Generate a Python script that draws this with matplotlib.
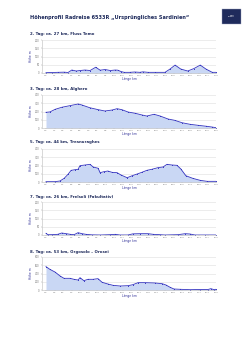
import matplotlib
matplotlib.use("Agg")
import matplotlib.pyplot as plt
import numpy as np
from matplotlib.patches import Rectangle

title = "Höhenprofil Radreise 6533R „Ursprüngliches Sardinien\u201c"

titles = [
    "2. Tag: ca. 27 km, Fluss Temo",
    "3. Tag: ca. 28 km, Alghero",
    "5. Tag: ca. 44 km, Tresnuraghes",
    "7. Tag: ca. 26 km, Frelsoli (Fakultativ)",
    "8. Tag: ca. 53 km, Orgosolo \u2013 Orosei",
]

km1 = [0, 0.95, 1.9, 2.9, 3.5, 4.1, 4.8, 5.4, 6.2, 7.0, 7.9, 8.6, 9.4, 10.2, 11.0, 11.4, 11.9,
       12.4, 13.3, 14.1, 14.9, 15.4, 16.2, 17.3, 18.9, 19.7, 20.5, 21.4, 22.5, 23.5, 24.5, 25.4, 26.4, 27]
hm1 = [2, 3, 4, 5, 3, 18, 12, 15, 18, 15, 35, 17, 21, 15, 18, 17, 9,
       4, 4, 6, 4, 7, 4, 4, 4, 24, 48, 24, 12, 27, 48, 24, 4, 4]

km2 = [0, 0.66, 1.5, 2.6, 3.95, 5.3, 5.9, 7.2, 8.6, 9.7, 10.9, 11.7, 12.5, 13.5, 14.7, 15.8,
       16.6, 17.8, 18.8, 20.1, 21.2, 22.4, 23.7, 25.0, 26.4, 27.3, 28]
hm2 = [190, 195, 226, 251, 271, 291, 279, 246, 222, 206, 218, 234, 222, 194, 178, 158,
       145, 166, 145, 109, 93, 64, 45, 33, 21, 12, 4]

km3 = [0, 2.3, 3.6, 4.7, 5.7, 6.5, 7.5, 8.3, 8.8, 10.1, 11.4, 12.2, 13.5, 14.0, 15.0, 16.0, 17.1,
       18.4, 19.4, 21.0, 22.3, 23.6, 24.8, 26.1, 27.4, 29.0, 30.3, 31.3, 32.6, 33.9, 34.9, 36.2,
       38.0, 39.9, 41.7, 44]
hm3 = [4, 4, 12, 44, 93, 141, 149, 154, 198, 206, 214, 182, 166, 113, 125, 133, 117,
       113, 85, 52, 76, 97, 117, 141, 154, 174, 182, 214, 206, 202, 158, 76,
       44, 20, 8, 8]

km4 = [0, 0.3, 0.9, 1.8, 2.4, 3.1, 3.7, 4.3, 4.9, 5.5, 6.1, 7.0, 8.3, 9.8, 10.6, 11.3, 12.5,
       13.3, 14.4, 15.6, 16.4, 17.4, 18.2, 20.2, 21.3, 22.0, 22.8, 24.3, 26]
hm4 = [10, 2, 2, 4, 12, 8, 4, 2, 14, 8, 4, 1, 0, 2, 4, 0, 0,
       7, 8, 8, 4, 2, 0, 2, 8, 6, 0, 0, 0]

km5 = [0, 1.2, 2.8, 4.4, 5.6, 7.5, 8.7, 10.0, 10.6, 11.8, 13.1, 14.7, 16.2, 17.5, 19.3, 20.9,
       23.1, 25.6, 27.1, 28.7, 30.9, 34.0, 36.2, 37.4, 38.7, 39.9, 41.8, 44.9, 48.0, 50.5, 51.4, 52.4, 53]
hm5 = [566, 501, 436, 339, 283, 283, 259, 242, 299, 226, 259, 259, 275, 186, 145, 113,
       97, 105, 129, 178, 178, 170, 153, 121, 65, 24, 17, 8, 12, 12, 32, 8, 17]

kms = [km1, km2, km3, km4, km5]
hms = [hm1, hm2, hm3, hm4, hm5]
yticks_list = [
    [0, 50, 100, 150, 200],
    [0, 100, 200, 300, 400],
    [0, 100, 200, 300, 400],
    [0, 50, 100, 150, 200],
    [0, 200, 400, 600, 800],
]
totals = [27, 28, 44, 26, 53]

W, H = 250, 353
fig = plt.figure(figsize=(W / 100, H / 100), dpi=100)
fig.patch.set_facecolor("white")

navy = "#1f2b5c"
line_c = "#3434c0"
fill_c = "#c9d7f4"

fig.text(30 / W, 1 - 18 / H, title, fontsize=3.6, fontweight="bold", color=navy,
         ha="left", va="center")

# logo
fig.patches.append(Rectangle((222 / W, 1 - 24 / H), 19 / W, 15 / H, transform=fig.transFigure,
                             facecolor=navy, edgecolor="#9aa3c0", linewidth=0.3))
fig.text(231.5 / W, 1 - 16 / H, "Rad\nreisen", fontsize=1.6, color="white", ha="center",
         va="center", linespacing=0.9)

tops = [40, 95, 149, 202, 257]
sub_y = [34, 89, 142, 197, 252]
left, right = 42, 216

for i in range(5):
    top = tops[i]
    bottom = top + 33
    ax = fig.add_axes([left / W, 1 - bottom / H, (right - left) / W, 33 / H])
    x = kms[i]
    y = hms[i]
    ax.fill_between(x, y, 0, color=fill_c, linewidth=0)
    ax.plot(x, y, color=line_c, linewidth=0.6, marker="o", markersize=0.7,
            markeredgewidth=0)
    tot = totals[i]
    ax.set_xlim(-tot * 4 / 170, tot)
    yt = yticks_list[i]
    ax.set_ylim(0, yt[-1])
    ax.set_yticks(yt)
    ax.set_yticklabels([str(v) for v in yt], fontsize=1.8, color="#666666")
    xt = np.linspace(0, tot, 21)
    ax.set_xticks(xt)
    ax.set_xticklabels([("%.1f" % v).replace(".", ",") for v in xt], fontsize=1.5,
                       color="#777777")
    ax.tick_params(axis="both", length=0.8, width=0.3, pad=0.8, colors="#999999",
                   labelcolor="#777777")
    ax.grid(axis="y", color="#dddddd", linewidth=0.4)
    ax.set_axisbelow(True)
    for s in ["top", "right"]:
        ax.spines[s].set_visible(False)
    ax.spines["left"].set_color("#bbbbbb")
    ax.spines["bottom"].set_color("#bbbbbb")
    ax.spines["left"].set_linewidth(0.4)
    ax.spines["bottom"].set_linewidth(0.4)
    ax.set_xlabel("Länge km", fontsize=2.2, color="#333399", labelpad=0.8)
    ax.set_ylabel("Höhe m", fontsize=2.2, color="#333399", labelpad=1.2)
    fig.text(30 / W, 1 - sub_y[i] / H, titles[i], fontsize=2.8, fontweight="bold",
             color=navy, ha="left", va="center")

fig.savefig("out.png", dpi=100, facecolor="white")
